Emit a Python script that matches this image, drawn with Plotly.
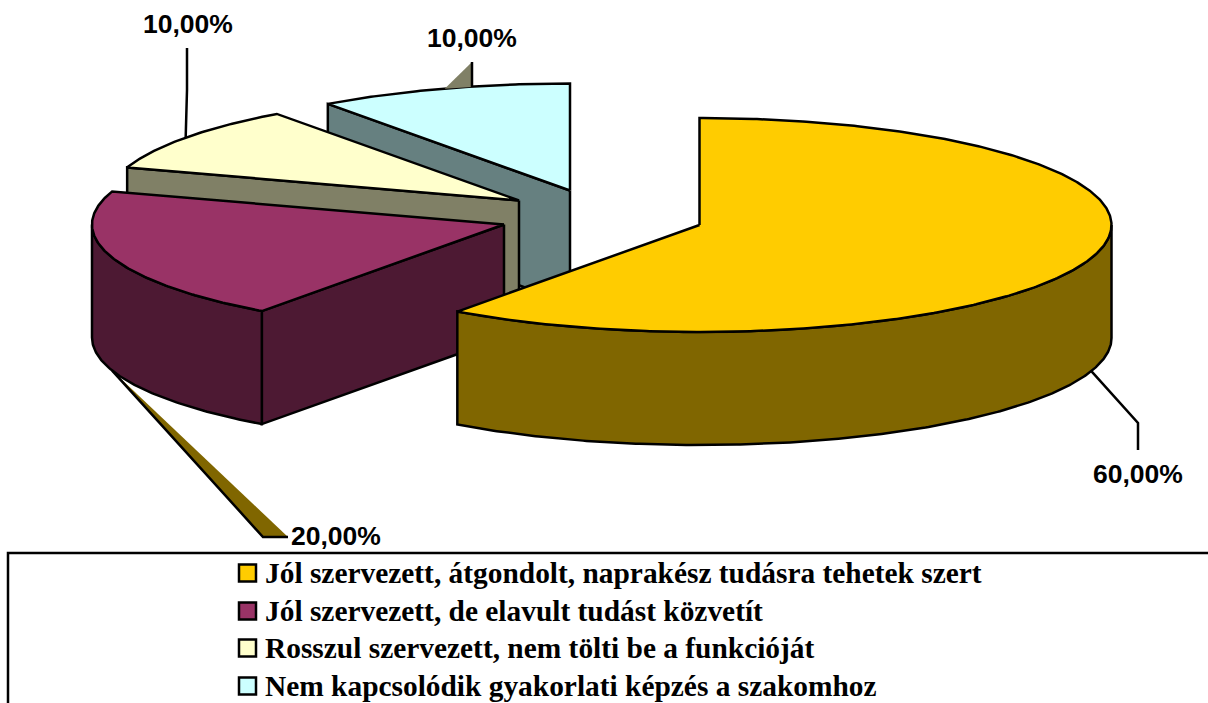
import numpy as np
import plotly.graph_objects as go

categories = [
    "Jól szervezett, átgondolt, naprakész tudásra tehetek szert",
    "Jól szervezett, de elavult tudást közvetít",
    "Rosszul szervezett, nem tölti be a funkcióját",
    "Nem kapcsolódik gyakorlati képzés a szakomhoz",
]
values = [60, 20, 10, 10]
labels = ["60,00%", "20,00%", "10,00%", "10,00%"]
top_colors = ["#FFCC00", "#993366", "#FFFFCC", "#CCFFFF"]
side_colors = ["#806600", "#4D1933", "#808066", "#668080"]

# pie geometry in page pixels
RX, RY, DEPTH = 412, 107, 113
centers_x = [699.5, 504, 519, 570]
centers_y = [225, 224.5, 200.5, 190.5]
W, H = 1208, 703
LW = 2.5


def pt(i, deg, drop=0.0):
    a = np.radians(deg)
    return centers_x[i] + RX * np.sin(a), centers_y[i] - RY * np.cos(a) + drop


def arc(i, a0, a1, drop=0.0):
    d = np.linspace(a0, a1, max(3, int(abs(a1 - a0) * 2)))
    return pt(i, d, drop)


edges = np.concatenate([[0], np.cumsum(values)]) * 3.6
fig = go.Figure()


def poly(xs, ys, fill, line=True):
    fig.add_trace(go.Scatter(
        x=list(xs), y=list(ys), mode="lines", fill="toself", fillcolor=fill,
        line=dict(color="black" if line else fill, width=LW if line else 0),
        hoverinfo="skip", showlegend=False))


def wall(i, ang):
    x0, y0 = centers_x[i], centers_y[i]
    x1, y1 = pt(i, ang)
    poly([x0, x1, x1, x0, x0], [y0, y1, y1 + DEPTH, y0 + DEPTH, y0], side_colors[i])


def leader(xs, ys):
    fig.add_trace(go.Scatter(x=xs, y=ys, mode="lines", line=dict(color="black", width=LW),
                             hoverinfo="skip", showlegend=False))


# cut walls and top faces, back to front
for i in [3, 2, 1, 0]:
    a0, a1 = edges[i], edges[i + 1]
    if i in (1, 2, 3):
        wall(i, a0)
    # outer wall: only the front half of the ellipse (90..270) is visible
    v0, v1 = max(a0, 90), min(a1, 270)
    if v1 > v0:
        xt, yt = arc(i, v0, v1)
        xb, yb = arc(i, v0, v1, DEPTH)
        poly(np.r_[xt, xb[::-1], xt[0]], np.r_[yt, yb[::-1], yt[0]], side_colors[i])
    xa, ya = arc(i, a0, a1)
    poly(np.r_[centers_x[i], xa, centers_x[i]], np.r_[centers_y[i], ya, centers_y[i]], top_colors[i])

# leaders start on the slice's mid angle
mids = (edges[:-1] + edges[1:]) / 2
sx, sy = pt(0, mids[0], DEPTH)
leader([sx, 1138, 1138], [sy, 423, 450])
sx, sy = pt(1, mids[1], DEPTH)
poly([sx, 263, 288, sx], [sy, 537, 537, sy], side_colors[0], line=False)
leader([sx, 263, 288], [sy, 537, 537])
sx, sy = pt(2, mids[2])
leader([sx, 187, 187], [sy, 90, 48])
sx, sy = pt(3, mids[3])
poly([sx + 2, 472, 472, sx + 2], [sy, 62, 87, sy], side_colors[2], line=False)
leader([472, 472], [62, 87])

# legend keys
key_y = [573, 611, 648, 686]
fig.add_trace(go.Scatter(
    x=[247.5] * 4, y=key_y, mode="markers",
    marker=dict(symbol="square", size=17, color=top_colors, line=dict(color="black", width=2.5)),
    hoverinfo="skip", showlegend=False))

annotations = []
for cat, y in zip(categories, key_y):
    annotations.append(dict(x=263, y=y, text=cat, showarrow=False, xanchor="left", yanchor="middle",
                            font=dict(family="Liberation Serif", size=29.4, color="black", weight="bold")))
for txt, x, y in zip(labels, [1138, 336, 188, 472], [474, 536, 24, 38]):
    annotations.append(dict(x=x, y=y, text=txt, showarrow=False, xanchor="center", yanchor="middle",
                            font=dict(family="Liberation Sans", size=26.5, color="black", weight="bold")))

fig.update_layout(
    width=W, height=H, margin=dict(l=0, r=0, t=0, b=0),
    paper_bgcolor="white", plot_bgcolor="white",
    xaxis=dict(range=[0, W], visible=False, fixedrange=True),
    yaxis=dict(range=[H, 0], visible=False, fixedrange=True),
    annotations=annotations,
    shapes=[dict(type="rect", x0=8, x1=W + 10, y0=553, y1=H + 10,
                 line=dict(color="black", width=2.5), layer="below")],
)
fig.write_html("out.html", config={"displayModeBar": False},
               post_script="document.body.style.margin='0';document.body.style.overflow='hidden';")
